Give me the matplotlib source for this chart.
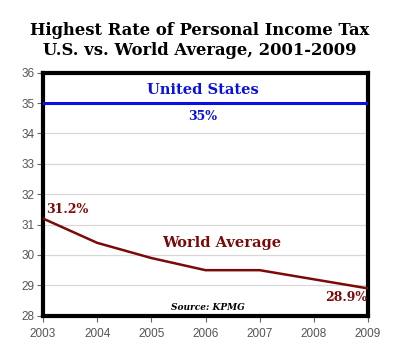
import matplotlib.pyplot as plt

years = [2003, 2004, 2005, 2006, 2007, 2008, 2009]
us_rate = [35, 35, 35, 35, 35, 35, 35]
world_rate = [31.2, 30.4, 29.9, 29.5, 29.5, 29.2, 28.9]
yticks = [28, 29, 30, 31, 32, 33, 34, 35, 36]

serif = ['DejaVu Serif']
blue = '#0a10e0'
red = '#7a0a0a'

fig = plt.figure(figsize=(4, 3.58), dpi=100)
ax = fig.add_axes([0.1075, 0.118, 0.8125, 0.679])

ax.plot(years, us_rate, color=blue, lw=2.2, zorder=3)
ax.plot(years, world_rate, color=red, lw=1.8, zorder=3)

ax.set_xlim(2003, 2009)
ax.set_ylim(28, 36)
ax.set_xticks(years)
ax.set_yticks(yticks)
ax.grid(axis='y', color='#d8d8d8', lw=0.9)
ax.set_axisbelow(True)
for s in ax.spines.values():
    s.set_linewidth(3)
    s.set_color('black')
ax.tick_params(colors='#666666', labelsize=8.5, length=4, width=0.8,
               labelcolor='#555555')
ax.tick_params(axis='x', pad=5)
ax.tick_params(axis='y', pad=2)
for lab in ax.get_xticklabels() + ax.get_yticklabels():
    lab.set_family(['Liberation Sans', 'DejaVu Sans'])

fig.text(0.5, 0.915, 'Highest Rate of Personal Income Tax', ha='center', va='center',
         fontsize=11.8, fontweight='bold', family=serif)
fig.text(0.5, 0.858, 'U.S. vs. World Average, 2001-2009', ha='center', va='center',
         fontsize=11.8, fontweight='bold', family=serif)

ax.text(2005.95, 35.42, 'United States', ha='center', va='center', color=blue,
        fontsize=10.5, fontweight='bold', family=serif)
ax.text(2005.95, 34.55, '35%', ha='center', va='center', color=blue,
        fontsize=9, fontweight='bold', family=serif)
ax.text(2003.06, 31.5, '31.2%', ha='left', va='center', color=red,
        fontsize=9, fontweight='bold', family=serif)
ax.text(2006.3, 30.4, 'World Average', ha='center', va='center', color=red,
        fontsize=10.5, fontweight='bold', family=serif)
ax.text(2008.98, 28.6, '28.9%', ha='right', va='center', color=red,
        fontsize=9, fontweight='bold', family=serif)
ax.text(2006.05, 28.28, 'Source: KPMG', ha='center', va='center', color='black',
        fontsize=6.5, fontweight='bold', style='italic', family=serif)

plt.savefig('out.png', dpi=100)
